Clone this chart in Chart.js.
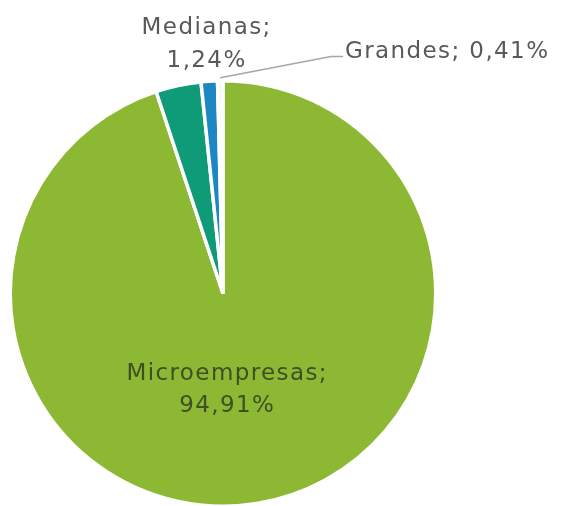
<!DOCTYPE html>
<html lang="es">
<head>
  <meta charset="UTF-8">
  <title>Empresas por tamaño</title>
  <script src="https://cdn.jsdelivr.net/npm/chart.js"></script>
  <style>
    html, body { margin: 0; padding: 0; background: #fff; overflow: hidden; }
  </style>
</head>
<body>
  <canvas id="pieChart" style="width: 562px; height: 510px;"></canvas>
  <script>
    // Datos
    var categorias = ['Microempresas', 'Pequeñas', 'Medianas', 'Grandes'];
    var porcentajes = [94.91, 3.44, 1.24, 0.41];
    var colores = ['#8cb833', '#0f9a78', '#1c87c3', '#f4f8f9'];
    var mostrarEtiqueta = [true, false, true, true];

    function fmt(v) {
      return v.toFixed(2).replace('.', ',') + '%';
    }

    // Etiquetas: "Categoria; valor"
    var etiquetasPlugin = {
      id: 'etiquetas',
      afterDraw: function (chart) {
        var ctx = chart.ctx;
        var arcs = chart.getDatasetMeta(0).data;
        ctx.save();
        ctx.font = '23px "DejaVu Sans"';
        ctx.letterSpacing = '1.4px';
        ctx.textAlign = 'center';
        ctx.textBaseline = 'middle';
        arcs.forEach(function (arc, i) {
          if (!mostrarEtiqueta[i]) return;
          var p = arc.getProps(['x', 'y', 'startAngle', 'endAngle', 'outerRadius']);
          var mid = (p.startAngle + p.endAngle) / 2;
          var r = p.outerRadius;
          var nombre = categorias[i] + ';';
          var valor = fmt(porcentajes[i]);
          if (i === 0) {
            // dentro del sector
            var cx = p.x + Math.cos(mid) * r * 0.42 - 10;
            var cy = p.y + Math.sin(mid) * r * 0.42 + 8;
            ctx.fillStyle = '#3f4f24';
            ctx.fillText(nombre, cx, cy - 16);
            ctx.fillText(valor, cx, cy + 16);
          } else if (i === 2) {
            // encima del sector
            var mx = p.x + Math.cos(mid) * r * 1.19;
            var my = p.y + Math.sin(mid) * r * 1.19 + 3;
            ctx.fillStyle = '#595959';
            ctx.fillText(nombre, mx, my - 16);
            ctx.fillText(valor, mx, my + 17);
          } else {
            // con linea guia
            var sx = p.x + Math.cos(mid) * (r + 3);
            var sy = p.y + Math.sin(mid) * (r + 3);
            var tx = p.x + 122;
            var ty = p.y - 238;
            ctx.strokeStyle = '#a6a6a6';
            ctx.lineWidth = 1.5;
            ctx.beginPath();
            ctx.moveTo(sx, sy);
            ctx.lineTo(tx - 14, ty + 1);
            ctx.lineTo(tx - 2, ty + 1);
            ctx.stroke();
            ctx.textAlign = 'left';
            ctx.fillStyle = '#595959';
            ctx.fillText(categorias[i] + '; ' + valor, tx, ty - 3);
            ctx.textAlign = 'center';
          }
        });
        ctx.restore();
      }
    };

    var pieChart = new Chart(document.getElementById('pieChart'), {
      type: 'pie',
      data: {
        labels: categorias,
        datasets: [{
          data: porcentajes,
          backgroundColor: colores,
          borderColor: '#ffffff',
          borderWidth: 3.5
        }]
      },
      options: {
        responsive: false,
        animation: false,
        layout: {
          padding: { top: 79, bottom: 2, left: 8, right: 124 }
        },
        plugins: {
          legend: { display: false },
          tooltip: { enabled: false }
        }
      },
      plugins: [etiquetasPlugin]
    });
  </script>
</body>
</html>
